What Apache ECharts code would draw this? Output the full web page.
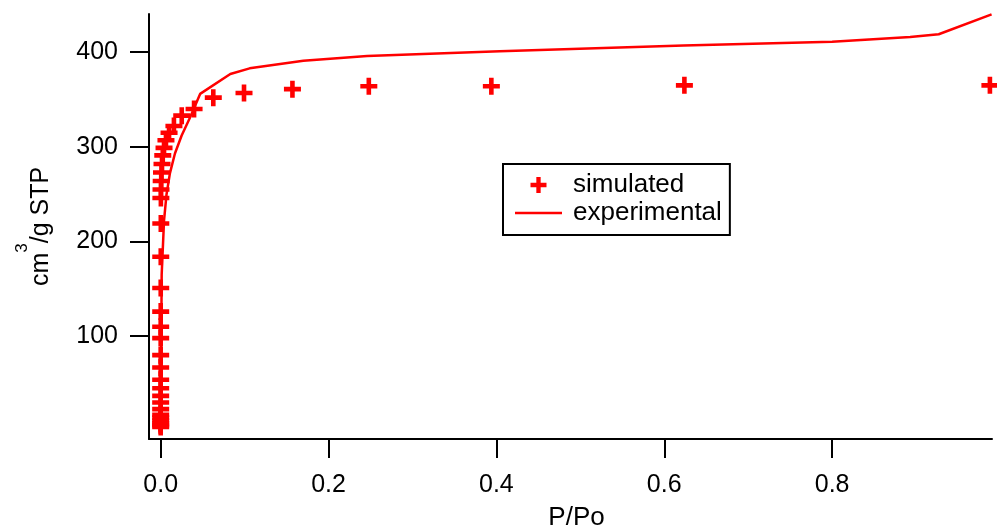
<!DOCTYPE html>
<html>
<head>
<meta charset="utf-8">
<script src="https://cdn.jsdelivr.net/npm/echarts@6/dist/echarts.min.js"></script>
<style>
  html, body { margin: 0; padding: 0; background: #fff; }
  #main { width: 997px; height: 529px; }
</style>
</head>
<body>
<div id="main"></div>
<script>
// simulated isotherm (P/Po, cm3/g STP)
var simPressure = [0.00000004, 0.000000063, 0.0000001, 0.00000016, 0.00000025, 0.0000004, 0.00000063,
  0.000001, 0.0000016, 0.0000025, 0.000004, 0.0000063, 0.00001, 0.000016, 0.000025, 0.00004, 0.000063,
  0.0001, 0.00016, 0.00025, 0.0004, 0.00063, 0.001, 0.0016, 0.0025, 0.004, 0.0063, 0.01, 0.0158,
  0.0251, 0.0398, 0.0627, 0.0993, 0.157, 0.248, 0.394, 0.624, 0.988];
var simUptake = [4, 6, 8, 11, 14, 17, 23,
  30, 37, 45, 54, 67, 80, 98, 110, 126, 151,
  184, 219, 246, 255, 264, 273, 282, 291, 299, 307, 315, 322,
  333, 340, 352, 357, 361, 364, 364, 365, 365];

// experimental isotherm
var expPressure = [0.0001, 0.0005, 0.0012, 0.004, 0.007, 0.011, 0.017, 0.025, 0.035, 0.047,
  0.083, 0.106, 0.17, 0.246, 0.404, 0.623, 0.80, 0.893, 0.927, 0.99];
var expUptake = [8, 70, 165, 222, 250, 272, 293, 312, 331, 356,
  377, 383, 391, 396, 401, 407, 411, 416, 419, 440];

var xTicks = [0, 0.2, 0.4, 0.6, 0.8];
var yTicks = [100, 200, 300, 400];

var plusPath = 'path://M6.2,0h4.6v6.2h6.2v4.6h-6.2v6.2h-4.6v-6.2h-6.2v-4.6h6.2z';
var linePath = 'path://M0,0h47v2.4h-47z';

function zip(a, b) {
  var out = [];
  for (var i = 0; i < a.length; i++) out.push([a[i], b[i]]);
  return out;
}

var chart = echarts.init(document.getElementById('main'), null, { renderer: 'canvas' });

var axisFont = 'Liberation Sans, Arial, sans-serif';

var option = {
  animation: false,
  backgroundColor: '#fff',
  textStyle: { fontFamily: axisFont },
  grid: { left: 149, right: 5, top: 14, bottom: 90, containLabel: false, outerBoundsMode: 'none' },
  legend: {
    orient: 'vertical',
    left: 503,
    top: 164,
    backgroundColor: '#fff',
    borderColor: '#000',
    borderWidth: 2,
    borderRadius: 0,
    padding: [8, 8, 9, 12],
    itemWidth: 47,
    itemHeight: 16,
    itemGap: 2,
    data: [
      { name: 'simulated', icon: plusPath },
      { name: 'experimental', icon: linePath }
    ],
    textStyle: { fontSize: 26, color: '#000', lineHeight: 26, padding: [0, 0, 0, 6], fontFamily: axisFont }
  },
  xAxis: {
    type: 'value',
    min: -0.0139,
    max: 0.9905,
    name: 'P/Po',
    nameLocation: 'middle',
    nameGap: 66,
    nameTextStyle: { fontSize: 26, color: '#000', padding: [0, 0, 0, 12], fontFamily: axisFont },
    axisLine: { show: true, onZero: false, lineStyle: { color: '#000', width: 2 } },
    axisTick: { show: true, customValues: xTicks, length: 19, lineStyle: { color: '#000', width: 2 } },
    axisLabel: {
      customValues: xTicks,
      margin: 34,
      fontSize: 25,
      color: '#000',
      formatter: function (v) { return v.toFixed(1); }
    },
    splitLine: { show: false }
  },
  yAxis: {
    type: 'value',
    min: -8.6,
    max: 440.4,
    name: '{a|cm}{sup|3}{a|/g STP}',
    nameLocation: 'middle',
    nameGap: 95,
    nameTextStyle: {
      color: '#000',
      rich: {
        a: { fontSize: 25, color: '#000', fontFamily: axisFont, lineHeight: 40, verticalAlign: 'bottom' },
        sup: { fontSize: 17, color: '#000', fontFamily: axisFont, verticalAlign: 'top' }
      }
    },
    axisLine: { show: true, onZero: false, lineStyle: { color: '#000', width: 2 } },
    axisTick: { show: true, customValues: yTicks, length: 19, lineStyle: { color: '#000', width: 2 } },
    axisLabel: { customValues: yTicks, margin: 31, fontSize: 25, color: '#000' },
    splitLine: { show: false }
  },
  series: [
    {
      name: 'experimental',
      type: 'line',
      data: zip(expPressure, expUptake),
      showSymbol: false,
      symbol: 'none',
      clip: false,
      color: '#ff0000',
      lineStyle: { color: '#ff0000', width: 2.5 },
      z: 2
    },
    {
      name: 'simulated',
      type: 'scatter',
      data: zip(simPressure, simUptake),
      symbol: plusPath,
      symbolSize: 17,
      color: '#ff0000',
      itemStyle: { color: '#ff0000', opacity: 1 },
      z: 3
    }
  ]
};

chart.setOption(option);
</script>
</body>
</html>
